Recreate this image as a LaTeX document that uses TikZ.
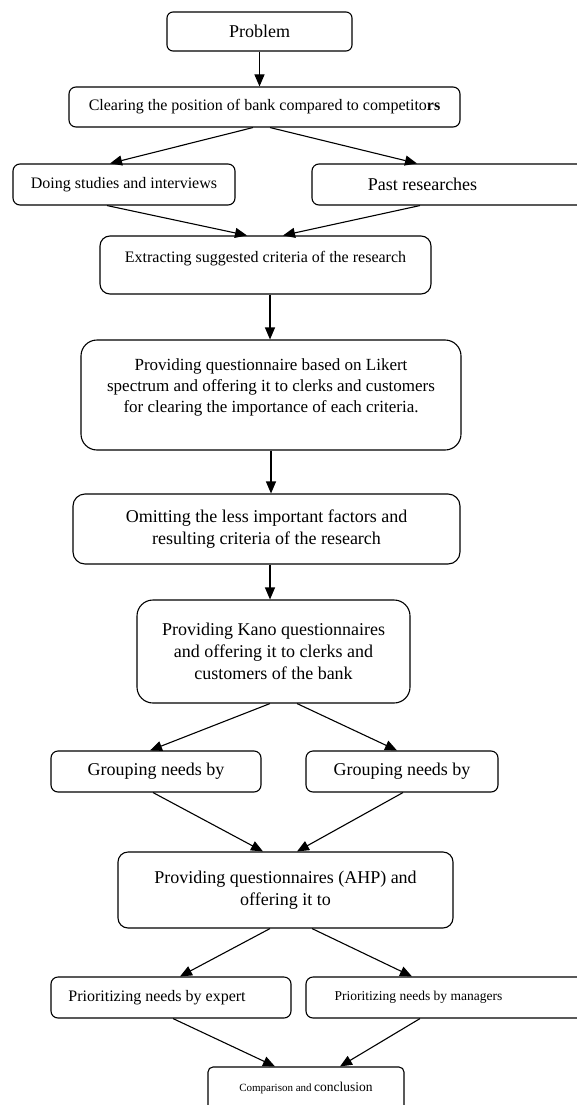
\documentclass[tikz,border=0pt]{standalone}
\usepackage{fontspec}
\setmainfont{Liberation Serif}
\usetikzlibrary{arrows.meta}

\tikzset{
  box/.style={draw, rounded corners=7pt, align=center, inner sep=0pt},
  big/.style={font=\fontsize{18}{22}\selectfont},
  mid/.style={font=\fontsize{16}{20}\selectfont},
}

\begin{document}
\begin{tikzpicture}[x=1pt,y=-1pt,>={Triangle[length=12pt,width=10pt]},line width=1.1pt]
\path[use as bounding box, clip] (0,0) rectangle (577,1105);

% define the boxes of the chart
  \node[box, big, minimum width=185, minimum height=39, rounded corners=6pt] (problem) at (259.5,31.5) {Problem};
  \node[box, mid, minimum width=391, minimum height=40] (clearing) at (264.5,107) {Clearing the position of bank compared to competito\textbf{rs}};
  \node[box, mid, minimum width=222, minimum height=41] (studies) at (124,184.5) {Doing studies and interviews};
  \node[box, minimum width=288, minimum height=41, label={[big, xshift=-33.5]center:Past researches}] (past) at (456,184.5) {};
  \node[box, minimum width=331, minimum height=58, rounded corners=10pt, label={[mid, yshift=6]center:Extracting suggested criteria of the research}] (extract) at (265.5,265) {};
  \node[box, minimum width=380, minimum height=110, rounded corners=16pt, label={[font=\fontsize{17}{21}\selectfont, align=center, yshift=8]center:Providing questionnaire based on Likert\\ spectrum and offering it to clerks and customers\\ for clearing the importance of each criteria.}] (likert) at (271,395) {};
  \node[box, big, minimum width=387, minimum height=70, rounded corners=12pt] (omit) at (266.5,529) {Omitting the less important factors and\\ resulting criteria of the research};
  \node[box, big, minimum width=273, minimum height=103, rounded corners=16pt] (kano) at (273.5,651.5) {Providing Kano questionnaires\\ and offering it to clerks and\\ customers of the bank};
  \node[box, big, minimum width=210, minimum height=41] (groupL) at (156,771.5) {Grouping needs by};
  \node[box, big, minimum width=192, minimum height=41] (groupR) at (402,771.5) {Grouping needs by};
  \node[box, big, minimum width=335, minimum height=76, rounded corners=10pt] (ahp) at (285.5,890) {Providing questionnaires (AHP) and\\ offering it to};
  \node[box, minimum width=240, minimum height=41, label={[mid, xshift=-14]center:Prioritizing needs by expert}] (expert) at (171,997.5) {};
  \node[box, minimum width=294, minimum height=41, label={[font=\fontsize{13.5}{16}\selectfont, xshift=-34.5]center:Prioritizing needs by managers}] (managers) at (453,997.5) {};
  \node[box, minimum width=196, minimum height=60, rounded corners=5pt, label={[yshift=9]center:{\fontsize{11}{13}\selectfont Comparison and} {\fontsize{13.5}{16}\selectfont conclusion}}] (comp) at (306,1097) {};

% define the links
  \path[->] (problem.south) edge (problem.south |- clearing.north)
        ([xshift=-11.5]clearing.south) edge ([xshift=-14]studies.north)
        ([xshift=5.5]clearing.south) edge ([xshift=-39]past.north)
        ([xshift=-17]studies.south) edge ([xshift=-18.5]extract.north)
        ([xshift=-36]past.south) edge ([xshift=17.5]extract.north)
        ([xshift=4.5]extract.south) edge ([xshift=4.5]extract.south |- likert.north)
        (likert.south) edge (likert.south |- omit.north)
        ([xshift=3.5]omit.south) edge ([xshift=3.5]omit.south |- kano.north)
        ([xshift=-3.5]kano.south) edge ([xshift=-6]groupL.north)
        ([xshift=23.5]kano.south) edge ([xshift=-5]groupR.north)
        ([xshift=-3]groupL.south) edge ([xshift=-22.5]ahp.north)
        ([xshift=1]groupR.south) edge ([xshift=11.5]ahp.north)
        ([xshift=-15.5]ahp.south) edge ([xshift=9]expert.north)
        ([xshift=26.5]ahp.south) edge ([xshift=-41]managers.north)
        ([xshift=2]expert.south) edge ([xshift=-31]comp.north)
        ([xshift=-33]managers.south) edge ([xshift=34]comp.north);

\end{tikzpicture}
\end{document}
